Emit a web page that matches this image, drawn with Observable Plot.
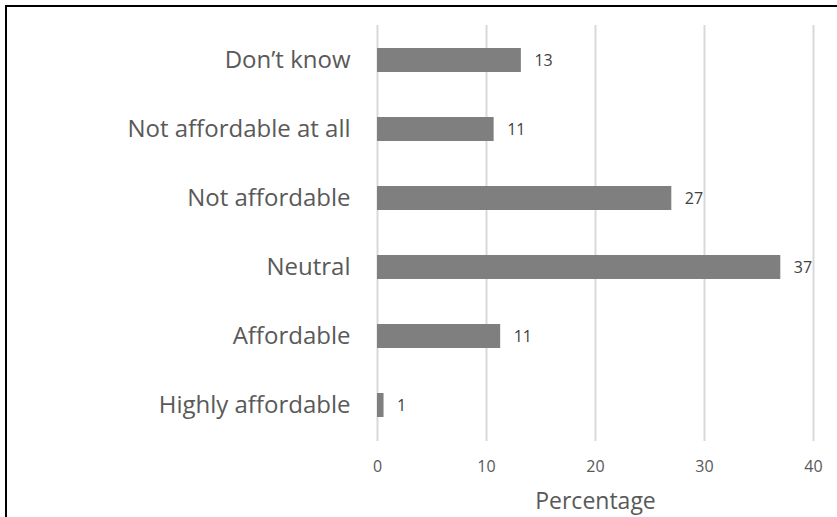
<!DOCTYPE html>
<html>
<head>
<meta charset="utf-8">
<script src="https://cdn.jsdelivr.net/npm/d3@7"></script>
<script src="https://cdn.jsdelivr.net/npm/@observablehq/plot@0.6"></script>
<style>
  html, body { margin: 0; padding: 0; background: #fff; width: 837px; height: 517px; overflow: hidden; }
  #frame { position: absolute; left: 5px; top: 5px; width: 900px; height: 600px; border: 2px solid #000; box-sizing: border-box; }
  #chart { position: absolute; left: 0; top: 0; }
  #chart svg { font-family: "Open Sans", Lato, sans-serif; }
</style>
</head>
<body>
<div id="frame"></div>
<div id="chart"></div>
<script>
const categories = ["Don\u2019t know", "Not affordable at all", "Not affordable", "Neutral", "Affordable", "Highly affordable"];
const values = [13.2, 10.7, 27.0, 37.0, 11.3, 0.6];
const valueLabels = ["13", "11", "27", "37", "11", "1"];
const xTicks = [0, 10, 20, 30, 40];

const data = categories.map((c, i) => ({category: c, value: values[i], label: valueLabels[i]}));

const plot = Plot.plot({
  width: 837,
  height: 517,
  marginLeft: 377,
  marginRight: 24,
  marginTop: 25,
  marginBottom: 76,
  style: {background: "transparent", color: "#595959"},
  x: {domain: [0, 40], ticks: xTicks},
  y: {domain: categories, paddingInner: 0.65, paddingOuter: 0.325},
  marks: [
    Plot.gridX(xTicks, {stroke: "#d9d9d9", strokeOpacity: 1, strokeWidth: 2}),
    Plot.barX(data, {x: "value", y: "category", fill: "#7f7f7f"}),
    Plot.text(data, {x: "value", y: "category", text: "label", textAnchor: "start", dx: 13, fontSize: 16, fill: "#404040"}),
    Plot.axisY({tickSize: 0, tickPadding: 27, fontSize: 24, label: null, fill: "#595959"}),
    Plot.axisX(xTicks, {tickSize: 0, tickPadding: 19, fontSize: 16, label: null, fill: "#595959"}),
    Plot.axisX({ticks: [], tickSize: 0, label: "Percentage", labelAnchor: "center", labelArrow: "none", labelOffset: 67, fontSize: 23, fill: "#595959"})
  ]
});
document.getElementById("chart").appendChild(plot);
</script>
</body>
</html>
